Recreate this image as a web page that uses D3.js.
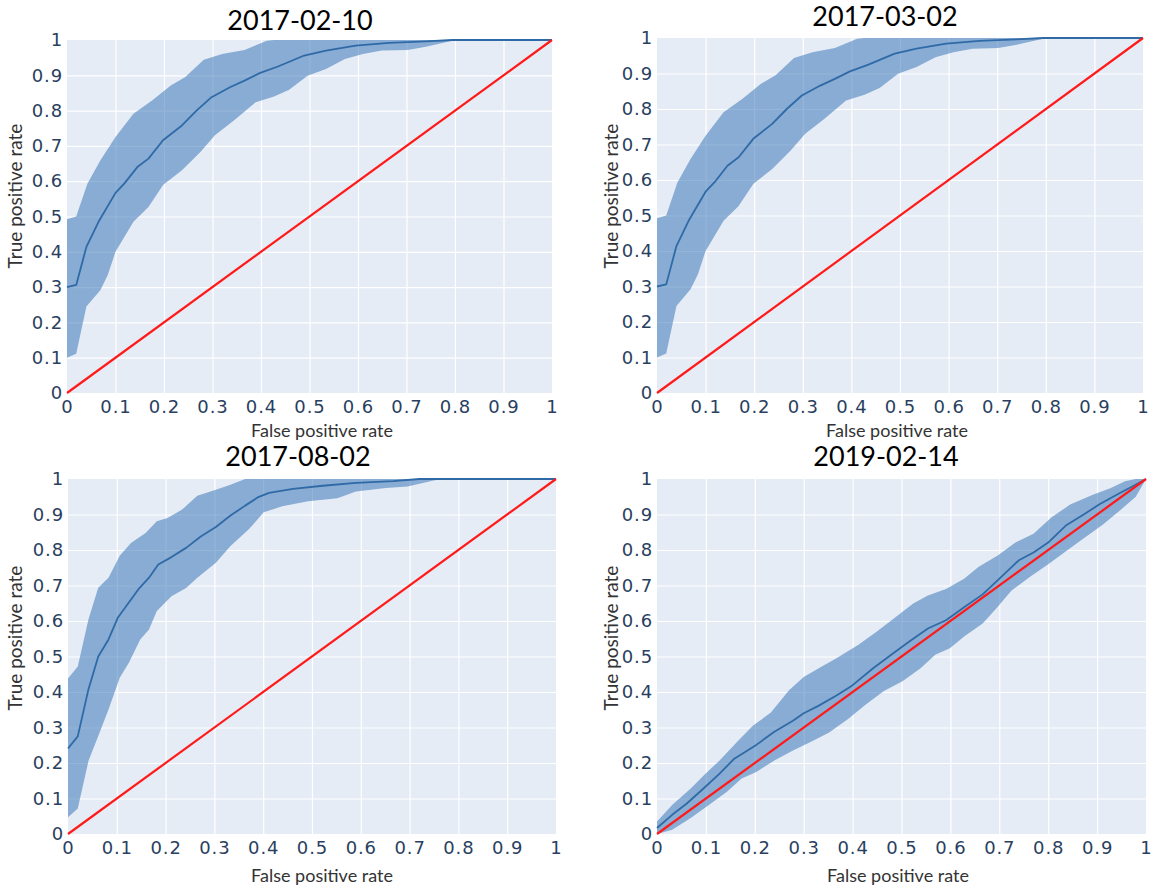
<!DOCTYPE html>
<html>
<head>
<meta charset="utf-8">
<script src="https://cdn.jsdelivr.net/npm/d3@7"></script>
<style>
  html, body { margin: 0; padding: 0; background: #ffffff; }
  svg { display: block; }
</style>
</head>
<body>
<svg id="chart" width="1154" height="886"></svg>
<script>
// ---------------- DATA ----------------
const titles = ["2017-02-10", "2017-03-02", "2017-08-02", "2019-02-14"];
const tickValues = [0, 0.1, 0.2, 0.3, 0.4, 0.5, 0.6, 0.7, 0.8, 0.9, 1];
const tickLabels = ["0", "0.1", "0.2", "0.3", "0.4", "0.5", "0.6", "0.7", "0.8", "0.9", "1"];
const xTitle = "False positive rate";
const yTitle = "True positive rate";
const chanceLine = [[0, 0], [1, 1]];

// Panel A (2017-02-10) — mean ROC and ±band, [fpr, tpr]
const meanA = [[0,0.30],[0.019,0.306],[0.04,0.414],[0.065,0.485],[0.10,0.567],[0.118,0.593],[0.145,0.64],[0.168,0.664],[0.198,0.716],[0.237,0.758],[0.267,0.80],[0.298,0.838],[0.336,0.866],[0.366,0.885],[0.397,0.906],[0.435,0.925],[0.489,0.956],[0.534,0.97],[0.595,0.984],[0.664,0.992],[0.74,0.996],[0.794,1.0],[1,1]];
const upperA = [[0,0.492],[0.019,0.50],[0.042,0.593],[0.069,0.659],[0.10,0.725],[0.137,0.791],[0.176,0.829],[0.214,0.871],[0.244,0.895],[0.282,0.944],[0.32,0.96],[0.366,0.972],[0.412,0.998],[0.427,1.0],[1,1]];
const lowerA = [[0,0.10],[0.019,0.111],[0.04,0.245],[0.069,0.292],[0.084,0.334],[0.10,0.40],[0.137,0.485],[0.168,0.527],[0.198,0.589],[0.237,0.631],[0.275,0.683],[0.305,0.73],[0.344,0.772],[0.389,0.824],[0.427,0.84],[0.458,0.859],[0.496,0.899],[0.534,0.918],[0.573,0.946],[0.61,0.96],[0.649,0.97],[0.702,0.972],[0.74,0.981],[0.794,0.998],[0.824,1.0],[1,1]];

// Panel B (2017-03-02)
const meanB = [[0,0.30],[0.019,0.306],[0.04,0.414],[0.065,0.485],[0.10,0.567],[0.118,0.593],[0.145,0.64],[0.168,0.664],[0.198,0.716],[0.237,0.758],[0.267,0.80],[0.298,0.838],[0.336,0.866],[0.366,0.885],[0.397,0.906],[0.435,0.925],[0.489,0.956],[0.534,0.97],[0.595,0.984],[0.664,0.992],[0.74,0.996],[0.794,1.0],[1,1]];
const upperB = [[0,0.492],[0.019,0.50],[0.042,0.593],[0.069,0.659],[0.10,0.725],[0.137,0.791],[0.176,0.829],[0.214,0.871],[0.244,0.895],[0.282,0.944],[0.32,0.96],[0.366,0.972],[0.412,0.998],[0.427,1.0],[1,1]];
const lowerB = [[0,0.10],[0.019,0.111],[0.04,0.245],[0.069,0.292],[0.084,0.334],[0.10,0.40],[0.137,0.485],[0.168,0.527],[0.198,0.589],[0.237,0.631],[0.275,0.683],[0.305,0.73],[0.344,0.772],[0.389,0.824],[0.427,0.84],[0.458,0.859],[0.496,0.899],[0.534,0.918],[0.573,0.946],[0.61,0.96],[0.649,0.97],[0.702,0.972],[0.74,0.981],[0.794,0.998],[0.824,1.0],[1,1]];

// Panel C (2017-08-02)
const meanC = [[0,0.241],[0.02,0.275],[0.042,0.408],[0.062,0.50],[0.083,0.548],[0.102,0.609],[0.144,0.689],[0.166,0.722],[0.185,0.759],[0.212,0.78],[0.242,0.806],[0.272,0.838],[0.303,0.865],[0.333,0.897],[0.363,0.925],[0.39,0.949],[0.412,0.961],[0.461,0.972],[0.522,0.981],[0.59,0.989],[0.666,0.994],[0.72,1.0],[1,1]];
const upperC = [[0,0.438],[0.02,0.472],[0.042,0.605],[0.062,0.694],[0.083,0.722],[0.106,0.784],[0.129,0.82],[0.159,0.848],[0.182,0.881],[0.204,0.89],[0.234,0.914],[0.265,0.953],[0.303,0.97],[0.333,0.984],[0.363,1.0],[1,1]];
const lowerC = [[0,0.047],[0.02,0.072],[0.042,0.206],[0.062,0.276],[0.083,0.351],[0.106,0.44],[0.125,0.483],[0.148,0.548],[0.166,0.576],[0.182,0.628],[0.212,0.67],[0.242,0.693],[0.265,0.722],[0.303,0.764],[0.333,0.811],[0.371,0.859],[0.401,0.906],[0.439,0.923],[0.492,0.937],[0.552,0.946],[0.59,0.965],[0.651,0.975],[0.696,0.979],[0.749,0.996],[0.77,1.0],[1,1]];

// Panel D (2019-02-14)
const meanD = [[0,0.017],[0.031,0.054],[0.061,0.086],[0.099,0.133],[0.128,0.17],[0.158,0.212],[0.181,0.232],[0.203,0.251],[0.24,0.288],[0.278,0.319],[0.3,0.34],[0.33,0.361],[0.367,0.39],[0.397,0.416],[0.442,0.467],[0.479,0.505],[0.516,0.542],[0.554,0.579],[0.591,0.602],[0.628,0.639],[0.666,0.675],[0.703,0.723],[0.74,0.771],[0.77,0.793],[0.8,0.821],[0.837,0.87],[0.875,0.902],[0.904,0.928],[0.942,0.957],[0.972,0.979],[1,1]];
const upperD = [[0,0.035],[0.031,0.082],[0.069,0.128],[0.099,0.17],[0.128,0.207],[0.166,0.263],[0.196,0.305],[0.233,0.342],[0.27,0.405],[0.3,0.442],[0.337,0.472],[0.367,0.495],[0.412,0.533],[0.449,0.57],[0.487,0.61],[0.524,0.649],[0.554,0.672],[0.591,0.69],[0.628,0.719],[0.658,0.753],[0.696,0.784],[0.733,0.821],[0.77,0.846],[0.807,0.892],[0.845,0.928],[0.89,0.955],[0.927,0.974],[0.957,0.994],[0.979,1.0],[1,1]];
const lowerD = [[0,0.0],[0.031,0.012],[0.069,0.045],[0.106,0.082],[0.143,0.119],[0.173,0.156],[0.203,0.175],[0.24,0.207],[0.278,0.235],[0.315,0.26],[0.352,0.286],[0.39,0.323],[0.427,0.365],[0.464,0.403],[0.502,0.43],[0.539,0.467],[0.569,0.505],[0.599,0.523],[0.628,0.556],[0.666,0.593],[0.696,0.639],[0.725,0.686],[0.763,0.725],[0.8,0.76],[0.837,0.797],[0.875,0.835],[0.912,0.872],[0.949,0.914],[0.979,0.95],[1,1]];

const meanSeries = [meanA, meanB, meanC, meanD];
const upperSeries = [upperA, upperB, upperC, upperD];
const lowerSeries = [lowerA, lowerB, lowerC, lowerD];

// ---------------- LAYOUT ----------------
const layout = [
  { left: 67,  top: 40,  w: 485, h: 353, tx: 300, ty: 30,  xtx: 322, xty: 437, ytx: 22,  yty: 196 },
  { left: 657, top: 38,  w: 486, h: 355, tx: 885, ty: 26,  xtx: 897, xty: 437, ytx: 618, yty: 196 },
  { left: 68,  top: 479, w: 488, h: 355, tx: 298, ty: 466, xtx: 322, xty: 882, ytx: 22,  yty: 638 },
  { left: 657, top: 479, w: 489, h: 355, tx: 886, ty: 466, xtx: 898, xty: 882, ytx: 618, yty: 638 }
];

const svg = d3.select("#chart");
const tickFont = "'DejaVu Sans', Verdana, sans-serif";
const labelFont = "Lato, 'Open Sans', sans-serif";

layout.forEach((L, i) => {
  const x = d3.scaleLinear().domain([0, 1]).range([0, L.w]);
  const y = d3.scaleLinear().domain([0, 1]).range([L.h, 0]);
  const g = svg.append("g").attr("transform", `translate(${L.left},${L.top})`);

  g.append("rect").attr("width", L.w).attr("height", L.h).attr("fill", "#e5ecf6");

  const fmt = (d) => tickLabels[tickValues.indexOf(d)];

  const gx = g.append("g").attr("transform", `translate(0,${L.h})`)
    .call(d3.axisBottom(x).tickValues(tickValues).tickFormat(fmt).tickSize(-L.h).tickPadding(7));
  const gy = g.append("g")
    .call(d3.axisLeft(y).tickValues(tickValues).tickFormat(fmt).tickSize(-L.w).tickPadding(4));

  [gx, gy].forEach(ax => {
    ax.attr("font-family", null).attr("font-size", null);
    ax.select(".domain").remove();
    ax.selectAll(".tick line")
      .attr("stroke", (d) => (d === 0 || d === 1) ? "none" : "#ffffff")
      .attr("stroke-width", 1.2);
    ax.selectAll(".tick text")
      .attr("fill", "#2a3f5f")
      .style("font-family", tickFont)
      .style("font-size", "18px")
      .style("letter-spacing", "0.9px");
  });

  const line = d3.line().x(d => x(d[0])).y(d => y(d[1]));

  const band = upperSeries[i].concat(lowerSeries[i].slice().reverse());
  g.append("path").attr("d", line(band) + "Z")
    .attr("fill", "rgba(44,108,178,0.5)").attr("stroke", "none");

  g.append("path").attr("d", line(meanSeries[i]))
    .attr("fill", "none").attr("stroke", "#2f6aa6").attr("stroke-width", 1.8)
    .attr("stroke-linejoin", "round");

  g.append("path").attr("d", line(chanceLine))
    .attr("fill", "none").attr("stroke", "#ff1a1a").attr("stroke-width", 2.2);

  svg.append("text").attr("x", L.tx).attr("y", L.ty)
    .attr("text-anchor", "middle").attr("fill", "#000")
    .style("font-family", labelFont).style("font-size", "27px")
    .text(titles[i]);

  svg.append("text").attr("x", L.xtx).attr("y", L.xty)
    .attr("text-anchor", "middle").attr("fill", "#333")
    .style("font-family", labelFont).style("font-size", "18px")
    .text(xTitle);

  svg.append("text")
    .attr("transform", `translate(${L.ytx},${L.yty}) rotate(-90)`)
    .attr("text-anchor", "middle").attr("fill", "#333")
    .style("font-family", labelFont).style("font-size", "19px")
    .text(yTitle);
});
</script>
</body>
</html>
